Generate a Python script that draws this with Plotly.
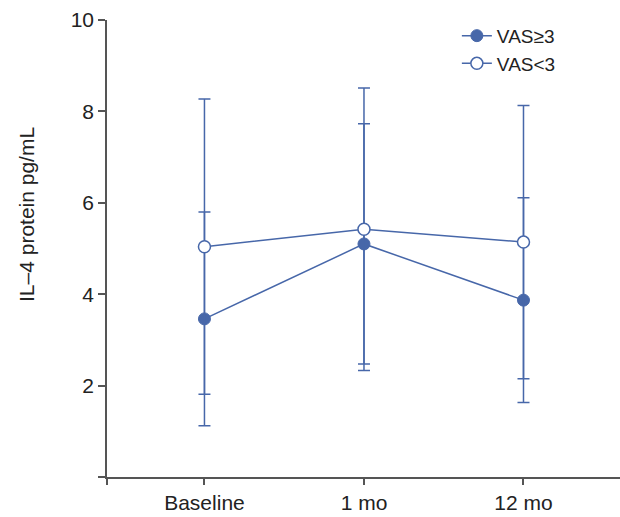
import plotly.graph_objects as go

categories = ["Baseline", "1 mo", "12 mo"]
vas_high_mean = [3.46, 5.10, 3.87]
vas_high_sd = [2.34, 2.63, 2.24]
vas_low_mean = [5.04, 5.42, 5.14]
vas_low_sd = [3.23, 3.09, 2.99]
y_ticks = [0, 2, 4, 6, 8, 10]
y_ticktext = ["", "2", "4", "6", "8", "10"]

BLUE = "#4767a9"
AXIS = "#555555"
FONT = "Liberation Sans, Arial, sans-serif"

xpos = list(range(len(categories)))
x_lo, x_hi = -0.611, 2.605

fig = go.Figure()
fig.add_trace(go.Scatter(
    x=xpos, y=vas_high_mean, name="VAS≥3", mode="lines+markers",
    line=dict(color=BLUE, width=1.5),
    marker=dict(symbol="circle", size=12, color=BLUE, line=dict(color=BLUE, width=1)),
    error_y=dict(type="data", array=vas_high_sd, visible=True, color=BLUE, thickness=1.5, width=6),
))
fig.add_trace(go.Scatter(
    x=xpos, y=vas_low_mean, name="VAS<3", mode="lines+markers",
    line=dict(color=BLUE, width=1.5),
    marker=dict(symbol="circle", size=12, color="white", line=dict(color=BLUE, width=1.5)),
    error_y=dict(type="data", array=vas_low_sd, visible=True, color=BLUE, thickness=1.5, width=6),
))

fig.update_layout(
    width=620, height=517,
    margin=dict(l=107, r=0, t=20, b=40),
    plot_bgcolor="white", paper_bgcolor="white",
    font=dict(family=FONT, size=21, color="#222222"),
    showlegend=True,
    legend=dict(x=0.682, y=1.007, xanchor="left", yanchor="top",
                font=dict(size=19, color="#222222"), bgcolor="rgba(0,0,0,0)",
                tracegroupgap=0, itemwidth=30),
    xaxis=dict(range=[x_lo, x_hi], tickmode="array",
               tickvals=[x_lo] + xpos, ticktext=[""] + categories,
               showline=True, linecolor=AXIS, linewidth=1.5,
               ticks="outside", ticklen=6, tickwidth=1.5, tickcolor=AXIS,
               showgrid=False, zeroline=False, tickfont=dict(size=21)),
    yaxis=dict(range=[0, 10], tickmode="array", tickvals=y_ticks, ticktext=y_ticktext,
               showline=True, linecolor=AXIS, linewidth=1.5,
               ticks="outside", ticklen=7, tickwidth=1.5, tickcolor=AXIS,
               showgrid=False, zeroline=False, tickfont=dict(size=21)),
    annotations=[dict(text="IL–4 protein pg/mL", xref="paper", yref="paper",
                      x=(26 - 107) / 513, y=(477 - 215) / 457, textangle=-90,
                      showarrow=False, font=dict(size=21, color="#222222"),
                      xanchor="center", yanchor="middle")],
)

fig.write_html("out.html", config={"displayModeBar": False},
               post_script="document.body.style.margin='0';document.body.style.padding='0';")
